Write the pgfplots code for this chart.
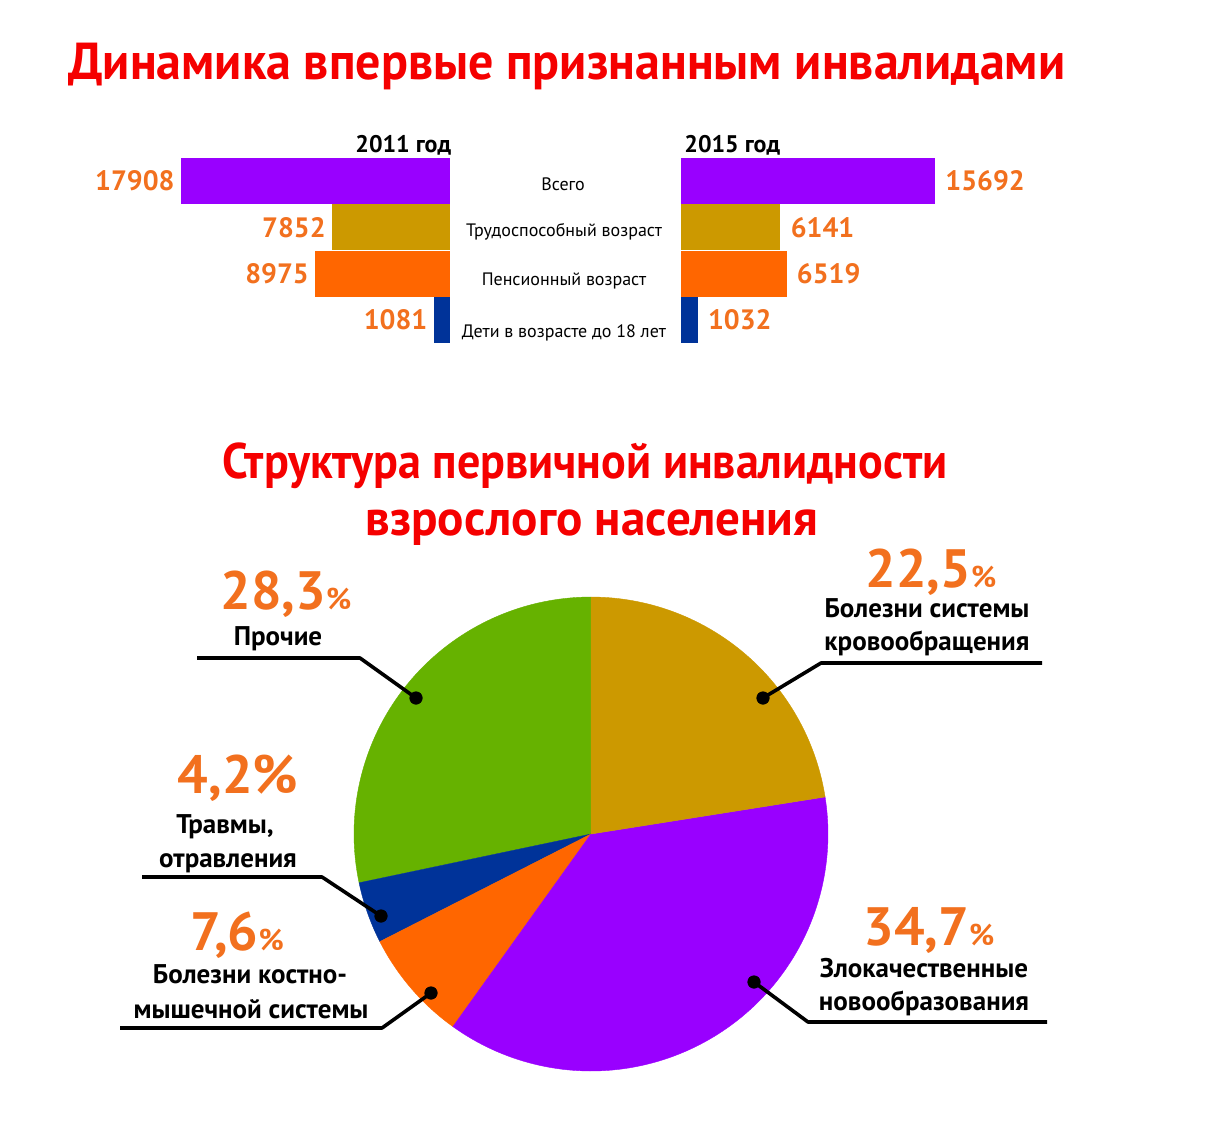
\documentclass[border=0pt]{standalone}
\usepackage{fontspec}
\setmainfont{PT Sans}
\usepackage{graphicx}
\usepackage{pgfplots}
\pgfplotsset{compat=1.18}
\definecolor{yellowc}{RGB}{204,153,0}
\definecolor{purplec}{RGB}{153,0,255}
\definecolor{orangec}{RGB}{255,102,0}
\definecolor{bluec}{RGB}{0,51,153}
\definecolor{greenc}{RGB}{102,178,0}
\definecolor{numorange}{RGB}{242,112,30}
\definecolor{titlered}{RGB}{245,0,0}
\begin{document}
\begin{tikzpicture}
\useasboundingbox (0,0) rectangle (611pt,-571pt);
\fill[white] (0,0) rectangle (611pt,-571pt);
\pgfmathsetmacro{\aA}{90}
\pgfmathsetmacro{\aB}{90+28.3*3.6}
\pgfmathsetmacro{\aC}{\aB+4.2*3.6}
\pgfmathsetmacro{\aD}{\aC+7.6*3.6}
\pgfmathsetmacro{\aE}{450-22.5*3.6}
\begin{axis}[at={(0pt,0pt)}, anchor=north west, scale only axis, width=611pt, height=571pt,
  xmin=0, xmax=1222, ymin=-1142, ymax=0, hide axis, clip=false]
% titles
\node[anchor=base west, inner sep=0pt, text=titlered] at (axis cs:68,-79)
  {\resizebox{498.5pt}{\height}{\fontsize{26}{26}\selectfont\bfseries Динамика впервые признанным инвалидами}};
\node[anchor=base west, inner sep=0pt, text=titlered] at (axis cs:222,-478)
  {\resizebox{362.5pt}{\height}{\fontsize{25}{25}\selectfont\bfseries Структура первичной инвалидности}};
\node[anchor=base west, inner sep=0pt, text=titlered] at (axis cs:365,-535)
  {\resizebox{226.5pt}{\height}{\fontsize{25}{25}\selectfont\bfseries взрослого населения}};
% year labels
\node[anchor=base west, inner sep=0pt, font=\fontsize{12}{12}\selectfont\bfseries] at (axis cs:355,-152) {2011 год};
\node[anchor=base west, inner sep=0pt, font=\fontsize{12}{12}\selectfont\bfseries] at (axis cs:684,-152) {2015 год};
% category labels
\node[anchor=base, inner sep=0pt, font=\fontsize{9}{9}\selectfont] at (axis cs:563,-190) {Всего};
\node[anchor=base, inner sep=0pt, font=\fontsize{9}{9}\selectfont] at (axis cs:564,-236) {Трудоспособный возраст};
\node[anchor=base, inner sep=0pt, font=\fontsize{9}{9}\selectfont] at (axis cs:564,-285) {Пенсионный возраст};
\node[anchor=base, inner sep=0pt, font=\fontsize{9}{9}\selectfont] at (axis cs:564,-337) {Дети в возрасте до 18 лет};
% pie
\addplot[fill=greenc, draw=greenc, line width=0.2pt, domain=\aA:\aB, samples=80, variable=\t]
  ({591+237*cos(\t)}, {-834+237*sin(\t)}) -- (axis cs:591,-834) -- cycle;
\addplot[fill=bluec, draw=bluec, line width=0.2pt, domain=\aB:\aC, samples=30, variable=\t]
  ({591+237*cos(\t)}, {-834+237*sin(\t)}) -- (axis cs:591,-834) -- cycle;
\addplot[fill=orangec, draw=orangec, line width=0.2pt, domain=\aC:\aD, samples=40, variable=\t]
  ({591+237*cos(\t)}, {-834+237*sin(\t)}) -- (axis cs:591,-834) -- cycle;
\addplot[fill=purplec, draw=purplec, line width=0.2pt, domain=\aD:\aE, samples=100, variable=\t]
  ({591+237*cos(\t)}, {-834+237*sin(\t)}) -- (axis cs:591,-834) -- cycle;
\addplot[fill=yellowc, draw=yellowc, line width=0.2pt, domain=\aE:450, samples=60, variable=\t]
  ({591+237*cos(\t)}, {-834+237*sin(\t)}) -- (axis cs:591,-834) -- cycle;
% leader lines
\addplot[black, line width=1.8pt, line join=round, mark=none] coordinates {(416,-698) (360,-658) (197,-658)};
\addplot[black, line width=1.8pt, line join=round, mark=none] coordinates {(381,-916) (322,-877) (142,-877)};
\addplot[black, line width=1.8pt, line join=round, mark=none] coordinates {(431,-993) (382,-1028) (120,-1028)};
\addplot[black, line width=1.8pt, line join=round, mark=none] coordinates {(763,-698) (821,-663) (1042,-663)};
\addplot[black, line width=1.8pt, line join=round, mark=none] coordinates {(754,-982) (808,-1022) (1047,-1022)};
\addplot[black, only marks, mark=*, mark size=3.1pt] coordinates {(416,-698) (381,-916) (431,-993) (763,-698) (754,-982)};
% pie labels
\tikzset{pct/.style={anchor=base, inner sep=0pt, text=numorange, font=\bfseries},
         lab/.style={anchor=base, inner sep=0pt, font=\fontsize{13.5}{13.5}\selectfont\bfseries}}
\node[pct] at (axis cs:931,-587) {\fontsize{27}{27}\selectfont 22,5\fontsize{15}{15}\selectfont\%};
\node[lab] at (axis cs:927,-617) {Болезни системы};
\node[lab] at (axis cs:927,-650) {кровообращения};
\node[pct] at (axis cs:929,-945) {\fontsize{27}{27}\selectfont 34,7\fontsize{15}{15}\selectfont\%};
\node[lab] at (axis cs:924,-977) {Злокачественные};
\node[lab] at (axis cs:924,-1010) {новообразования};
\node[pct] at (axis cs:286,-609) {\fontsize{27}{27}\selectfont 28,3\fontsize{15}{15}\selectfont\%};
\node[lab] at (axis cs:278,-645) {Прочие};
\node[pct] at (axis cs:238,-793) {\fontsize{27}{27}\selectfont 4,2\%};
\node[lab] at (axis cs:225,-833) {Травмы,};
\node[lab] at (axis cs:228,-867) {отравления};
\node[pct] at (axis cs:237,-950) {\fontsize{27}{27}\selectfont 7,6\fontsize{15}{15}\selectfont\%};
\node[lab] at (axis cs:250,-983) {Болезни костно-};
\node[lab] at (axis cs:251,-1018) {мышечной системы};
\end{axis}

% left bars (2011)
\begin{axis}[at={(225pt,-79pt)}, anchor=north east, scale only axis, width=134.5pt, height=92.5pt,
  xbar, bar shift=0pt, bar width=23pt, x dir=reverse, xmin=0, xmax=17908,
  ymin=-0.5, ymax=3.5, y dir=reverse, hide axis, clip=false, point meta=x,
  nodes near coords={\pgfmathprintnumber[fixed,precision=0,1000 sep={},assume math mode=true]{\pgfplotspointmeta}},
  every node near coord/.append style={anchor=east, inner sep=0pt, xshift=-3pt, font=\fontsize{14}{14}\selectfont\bfseries, text=numorange}]
\addplot[fill=purplec, draw=none] coordinates {(17908,0)};
\addplot[fill=yellowc, draw=none] coordinates {(7852,1)};
\addplot[fill=orangec, draw=none] coordinates {(8975,2)};
\addplot[fill=bluec, draw=none] coordinates {(1081,3)};
\end{axis}

% right bars (2015)
\begin{axis}[at={(340.5pt,-79pt)}, anchor=north west, scale only axis, width=127pt, height=92.5pt,
  xbar, bar shift=0pt, bar width=23pt, xmin=0, xmax=15692,
  ymin=-0.5, ymax=3.5, y dir=reverse, hide axis, clip=false, point meta=x,
  nodes near coords={\pgfmathprintnumber[fixed,precision=0,1000 sep={},assume math mode=true]{\pgfplotspointmeta}},
  every node near coord/.append style={anchor=west, inner sep=0pt, xshift=5pt, font=\fontsize{14}{14}\selectfont\bfseries, text=numorange}]
\addplot[fill=purplec, draw=none] coordinates {(15692,0)};
\addplot[fill=yellowc, draw=none] coordinates {(6141,1)};
\addplot[fill=orangec, draw=none] coordinates {(6519,2)};
\addplot[fill=bluec, draw=none] coordinates {(1032,3)};
\end{axis}
\end{tikzpicture}
\end{document}
